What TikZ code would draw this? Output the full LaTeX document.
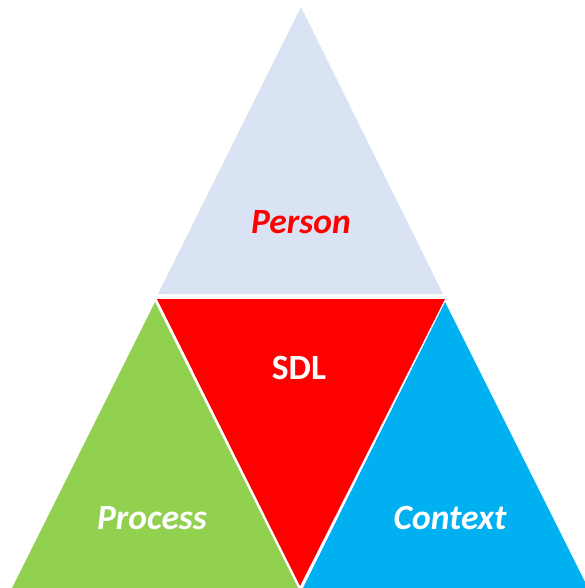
\documentclass[tikz,border=0pt]{standalone}
\usepackage{fontspec}
\setmainfont{Carlito}

\definecolor{persongrey}{HTML}{DAE3F3}
\definecolor{sdlred}{HTML}{FF0000}
\definecolor{processgreen}{HTML}{92D050}
\definecolor{contextblue}{HTML}{00B0F0}

\tikzset{
  lbl/.style={anchor=base, inner sep=0pt, font=\fontsize{35.5}{42}\selectfont\bfseries},
}

\begin{document}
\begin{tikzpicture}[x=1pt,y=-1pt]
  \useasboundingbox (0,0) rectangle (585,588);
  \clip (0,0) rectangle (585,588);

  % the four triangles
  \fill[persongrey] (301,7) -- (443,294) -- (158,294) -- cycle;
  \fill[sdlred] (157,299) -- (445,299) -- (300,586) -- cycle;
  \fill[processgreen] (155,302) -- (298,588) -- (12,588) -- cycle;
  \fill[contextblue] (445,302) -- (588,588) -- (303,588) -- cycle;

  % labels
  \node[lbl, text=sdlred] (person) at (301,233) {\itshape Person};
  \node[lbl, text=white] (sdl) at (299,379) {SDL};
  \node[lbl, text=white] (process) at (152,529) {\itshape Process};
  \node[lbl, text=white] (context) at (450,529) {\itshape Context};
\end{tikzpicture}
\end{document}
